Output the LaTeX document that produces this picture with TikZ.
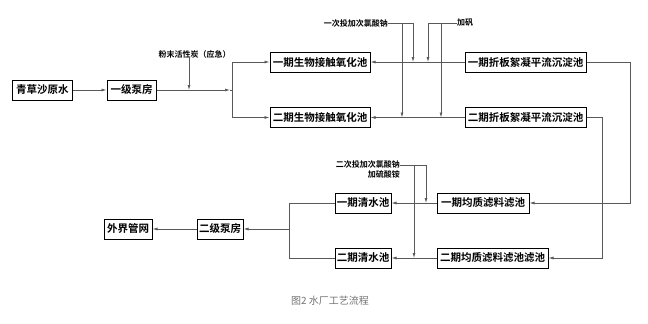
\documentclass[tikz,border=0pt]{standalone}
\usepackage{fontspec}
\newfontfamily\cjk{Noto Sans CJK SC}
\newfontfamily\cjkb{Noto Sans CJK SC Bold}
\usetikzlibrary{arrows.meta}
\begin{document}
\begin{tikzpicture}[x=1pt,y=-1pt,
  box/.style={draw=black,line width=1pt,minimum height=20pt,inner sep=0pt,font=\cjkb\fontsize{10.5}{12}\selectfont,anchor=center},
  lbl/.style={font=\cjkb\fontsize{8}{10}\selectfont,inner sep=0pt},
  ln/.style={draw=black!65,line width=0.7pt},
  arr/.style={ln,-{Latex[length=5pt,width=3pt]}}]
\useasboundingbox (0,0) rectangle (648,324);
% boxes
\node[box,minimum width=60pt] (raw) at (42.5,90) {青草沙原水};
\node[box,minimum width=49pt] (pump1) at (131.5,90) {一级泵房};
\node[box,minimum width=100pt] (bio1) at (320,62) {一期生物接触氧化池};
\node[box,minimum width=100pt] (bio2) at (320,117.5) {二期生物接触氧化池};
\node[box,minimum width=121pt] (sed1) at (525.5,62) {一期折板絮凝平流沉淀池};
\node[box,minimum width=121pt] (sed2) at (525.5,117.5) {二期折板絮凝平流沉淀池};
\node[box,minimum width=92pt] (fil1) at (483,203) {一期均质滤料滤池};
\node[box,minimum width=111pt] (fil2) at (492.5,258) {二期均质滤料滤池滤池};
\node[box,minimum width=56pt] (cw1) at (363,203) {一期清水池};
\node[box,minimum width=56pt] (cw2) at (363,258) {二期清水池};
\node[box,minimum width=46pt] (pump2) at (220,229) {二级泵房};
\node[box,minimum width=48pt] (ext) at (128,229) {外界管网};
% labels
\node[lbl] (pac) at (194.5,54) {粉末活性炭（应急）};
\node[lbl,anchor=east] (chl1) at (388,23) {一次投加次氯酸钠};
\node[lbl,anchor=west] (alum) at (457,23) {加矾};
\node[lbl,anchor=north east,align=right] (chl2) at (400,160) {二次投加次氯酸钠\\加硫酸铵};
\node[font=\cjk\fontsize{10}{12}\selectfont,text=black!55] (cap) at (330,301) {图2 水厂工艺流程};
% coordinates
\coordinate (ja) at (230,90);
\coordinate (j1) at (232,90);
\coordinate (j1t) at (232,62);
\coordinate (j1b) at (232,117.5);
\coordinate (pact) at (189,57);
\coordinate (paci) at (189,90);
\coordinate (c1a) at (413,23);
\coordinate (c1b) at (413,62);
\coordinate (c1c) at (402,23);
\coordinate (c1d) at (402,117.5);
\coordinate (a1a) at (428,23);
\coordinate (a1b) at (428,62);
\coordinate (a1c) at (441,23);
\coordinate (a1d) at (441,117.5);
\coordinate (r1a) at (630,62);
\coordinate (r1b) at (630,203);
\coordinate (r2a) at (602,117.5);
\coordinate (r2b) at (602,258);
\coordinate (c2s) at (400,165);
\coordinate (c2a) at (426,165);
\coordinate (c2b) at (426,203);
\coordinate (c2c) at (414,165);
\coordinate (c2d) at (414,258);
\coordinate (l1) at (289,203);
\coordinate (l2) at (289,258);
\coordinate (lm) at (289,229);
% connectors
\draw[arr] (raw.east) -- (pump1.west);
\draw[arr] (pump1.east) -- (ja);
\draw[ln] (ja) -- (j1);
\draw[ln] (j1t) -- (j1b);
\draw[arr] (j1t) -- (bio1.west);
\draw[arr] (j1b) -- (bio2.west);
\draw[arr] (pact) -- (paci);
\draw[arr] (sed1.west) -- (bio1.east);
\draw[arr] (sed2.west) -- (bio2.east);
\draw[ln] (chl1.east) -- (c1a);
\draw[arr] (c1a) -- (c1b);
\draw[arr] (c1c) -- (c1d);
\draw[ln] (alum.west) -- (a1a);
\draw[arr] (a1a) -- (a1b);
\draw[arr] (a1c) -- (a1d);
\draw[arr] (sed1.east) -- (r1a) -- (r1b) -- (fil1.east);
\draw[arr] (sed2.east) -- (r2a) -- (r2b) -- (fil2.east);
\draw[arr] (fil1.west) -- (cw1.east);
\draw[arr] (fil2.west) -- (cw2.east);
\draw[ln] (c2s) -- (c2a);
\draw[arr] (c2a) -- (c2b);
\draw[arr] (c2c) -- (c2d);
\draw[ln] (cw1.west) -- (l1) -- (l2) -- (cw2.west);
\draw[arr] (lm) -- (pump2.east);
\draw[arr] (pump2.west) -- (ext.east);
\end{tikzpicture}
\end{document}
